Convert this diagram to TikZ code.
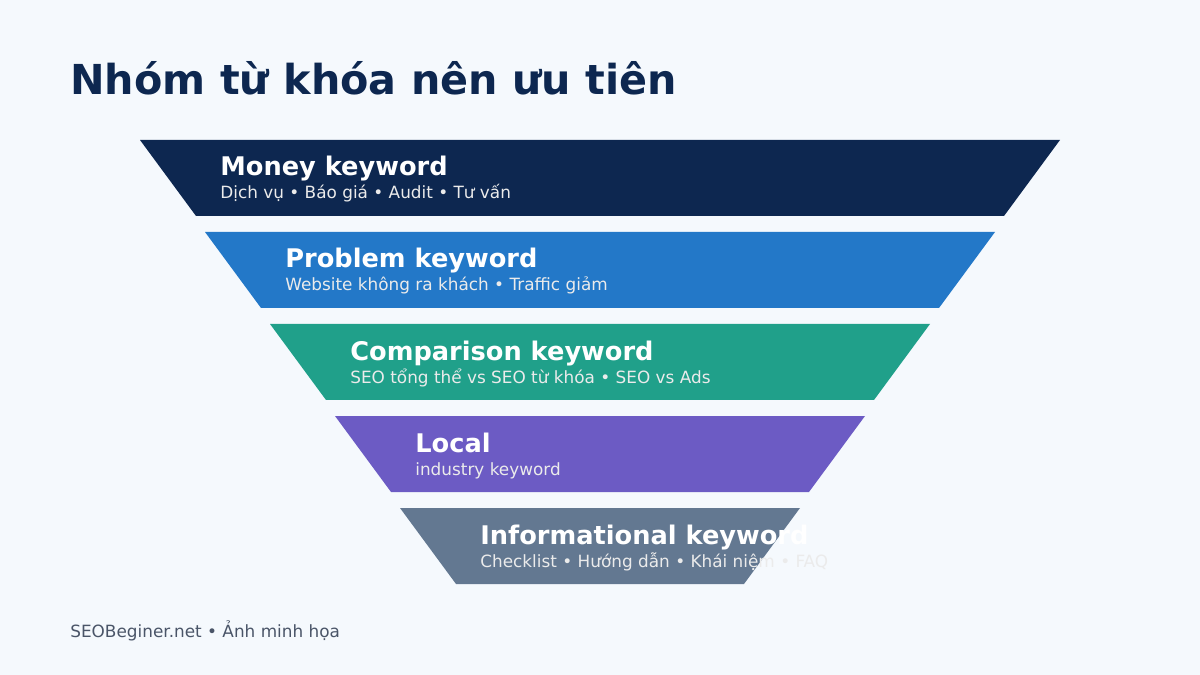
\documentclass[tikz,border=0pt]{standalone}
\usepackage{fontspec}
\setmainfont{DejaVu Sans}
\definecolor{bgcol}{HTML}{F5F9FD}
\definecolor{navy}{HTML}{0D2750}
\definecolor{lvlA}{HTML}{0D2750}
\definecolor{lvlB}{HTML}{2378C8}
\definecolor{lvlC}{HTML}{20A08A}
\definecolor{lvlD}{HTML}{6C5BC4}
\definecolor{lvlE}{HTML}{637891}
\definecolor{footcol}{HTML}{4A5568}
\begin{document}
\begin{tikzpicture}[
        x=0.02cm,
        y=-0.02cm,
        lvltitle/.style={anchor=base west,inner sep=0pt,text=white,font=\fontsize{14.6}{16}\selectfont\bfseries},
        lvlsub/.style={anchor=base west,inner sep=0pt,text=white!92!black,font=\fontsize{9.6}{11}\selectfont}]

%Hintergrund
\fill[bgcol] (0,0) rectangle (1200,675);
\useasboundingbox (0,0) rectangle (1200,675);
%Titel
\node[anchor=base west,inner sep=0pt,text=navy,font=\fontsize{23.5}{26}\selectfont\bfseries] (title) at (70,95) {Nhóm từ khóa nên ưu tiên};
%Trichter
\foreach \i/\col/\head/\sub in {
    0/lvlA/Money keyword/Dịch vụ • Báo giá • Audit • Tư vấn,
    1/lvlB/Problem keyword/Website không ra khách • Traffic giảm,
    2/lvlC/Comparison keyword/SEO tổng thể vs SEO từ khóa • SEO vs Ads,
    3/lvlD/Local/industry keyword/Đắk Lắk • Buôn Ma Thuột • Nha khoa • Homestay,
    4/lvlE/Informational keyword/Checklist • Hướng dẫn • Khái niệm • FAQ}{
  \pgfmathsetmacro{\top}{140+92*\i}
  \pgfmathsetmacro{\bot}{\top+76}
  \pgfmathsetmacro{\xl}{140+65*\i}
  \pgfmathsetmacro{\xr}{1060-65*\i}
  \fill[\col] (\xl,\top) -- (\xr,\top) -- (\xr-56,\bot) -- (\xl+56,\bot) -- cycle;
  \node[lvltitle] (head\i) at (\xl+80,\top+36) {\head};
  \node[lvlsub] (sub\i) at (\xl+80,\top+59) {\sub};
}
%Fusszeile
\node[anchor=base west,inner sep=0pt,text=footcol,font=\fontsize{9.6}{11}\selectfont] (foot) at (70,637) {SEOBeginer.net • Ảnh minh họa};

\end{tikzpicture}
\end{document}
